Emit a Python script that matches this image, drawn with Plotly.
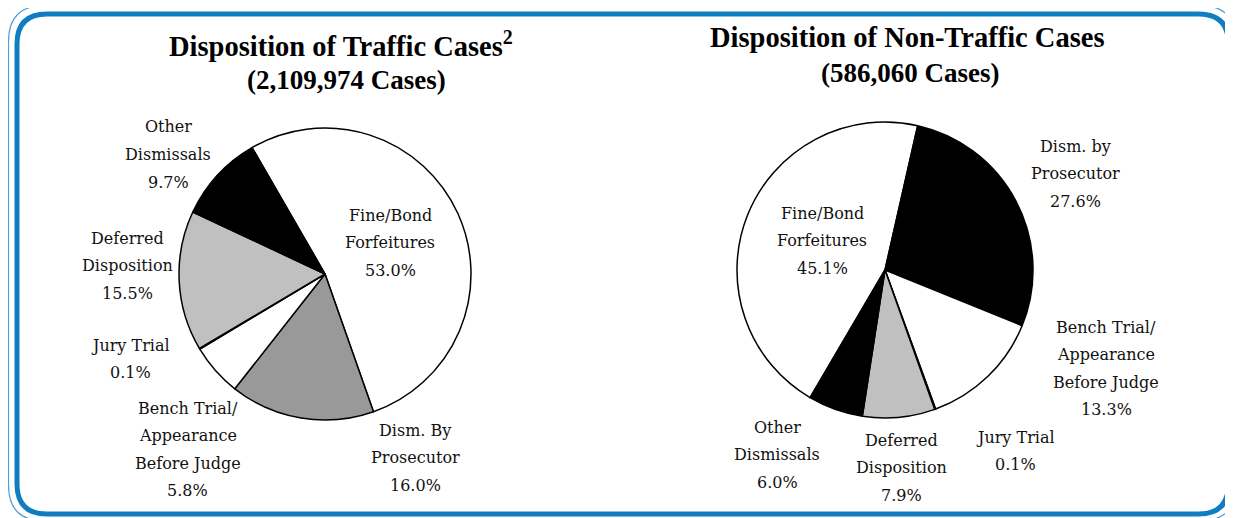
import plotly.graph_objects as go

W, H = 1233, 518
# the page body has an 8px margin, so everything is drawn 8px up/left to land in place
SHIFT = 8

traffic_labels = [
    "Fine/Bond\nForfeitures",
    "Dism. By\nProsecutor",
    "Bench Trial/\nAppearance\nBefore Judge",
    "Jury Trial",
    "Deferred\nDisposition",
    "Other\nDismissals",
]
traffic_values = [53.0, 16.0, 5.8, 0.1, 15.5, 9.7]
traffic_colors = ["#ffffff", "#999999", "#ffffff", "#000000", "#c0c0c0", "#000000"]

nontraffic_labels = [
    "Fine/Bond\nForfeitures",
    "Dism. by\nProsecutor",
    "Bench Trial/\nAppearance\nBefore Judge",
    "Jury Trial",
    "Deferred\nDisposition",
    "Other\nDismissals",
]
nontraffic_values = [45.1, 27.6, 13.3, 0.1, 7.9, 6.0]
nontraffic_colors = ["#ffffff", "#000000", "#ffffff", "#000000", "#c0c0c0", "#000000"]

traffic_title = ["Disposition of Traffic Cases<sup>2</sup>", "(2,109,974 Cases)"]
nontraffic_title = ["Disposition of Non-Traffic Cases", "(586,060 Cases)"]

# label anchor (center x, first line y) in pixels, same order as the labels
traffic_label_pos = [(390, 215), (415, 430), (188, 408), (130, 345), (127, 238), (168, 127)]
nontraffic_label_pos = [(822, 213), (1075, 146), (1106, 327), (1015, 437), (901, 440), (777, 427)]

LABEL_FONT = dict(family="DejaVu Serif", size=16, color="#111111")
BLUE = "#0e7dc2"


def px(x):
    return (x - SHIFT) / W


def py(y):
    return 1 - (y - SHIFT) / H


def pie_domain(cx, cy, r):
    return dict(x=[px(cx - r), px(cx + r)], y=[py(cy + r), py(cy - r)])


def rounded_path(x0, y0, x1, y1, r):
    return (
        f"M {px(x0 + r)},{py(y0)} L {px(x1 - r)},{py(y0)} "
        f"Q {px(x1)},{py(y0)} {px(x1)},{py(y0 + r)} "
        f"L {px(x1)},{py(y1 - r)} Q {px(x1)},{py(y1)} {px(x1 - r)},{py(y1)} "
        f"L {px(x0 + r)},{py(y1)} Q {px(x0)},{py(y1)} {px(x0)},{py(y1 - r)} "
        f"L {px(x0)},{py(y0 + r)} Q {px(x0)},{py(y0)} {px(x0 + r)},{py(y0)} Z"
    )


fig = go.Figure()

fig.add_pie(
    labels=[l.replace("\n", " ") for l in traffic_labels],
    values=traffic_values,
    marker=dict(colors=traffic_colors, line=dict(color="#000000", width=1.5)),
    sort=False,
    direction="clockwise",
    rotation=330,
    textinfo="none",
    hoverinfo="label+percent",
    domain=pie_domain(325, 274, 146),
    showlegend=False,
)
fig.add_pie(
    labels=[l.replace("\n", " ") for l in nontraffic_labels],
    values=nontraffic_values,
    marker=dict(colors=nontraffic_colors, line=dict(color="#000000", width=1.5)),
    sort=False,
    direction="clockwise",
    rotation=210.4,
    textinfo="none",
    hoverinfo="label+percent",
    domain=pie_domain(885, 270, 148),
    showlegend=False,
)

annotations = []


def add_label(text, value, pos, gap=27.5):
    lines = text.split("\n") + [f"{value:.1f}%"]
    x, y = pos
    for i, line in enumerate(lines):
        annotations.append(
            dict(
                x=px(x), y=py(y + i * gap), xref="paper", yref="paper",
                text=line, showarrow=False, font=LABEL_FONT,
                xanchor="center", yanchor="middle",
            )
        )


for text, value, pos in zip(traffic_labels, traffic_values, traffic_label_pos):
    add_label(text, value, pos)
for text, value, pos in zip(nontraffic_labels, nontraffic_values, nontraffic_label_pos):
    add_label(text, value, pos)

for lines, cx, ys in [(traffic_title, [341, 346], [44, 80]), (nontraffic_title, [907, 910], [37, 73])]:
    for line, x, y, size in zip(lines, cx, ys, [28.5, 27]):
        annotations.append(
            dict(
                x=px(x), y=py(y), xref="paper", yref="paper",
                text=f"<b>{line}</b>", showarrow=False,
                font=dict(family="Liberation Serif", size=size, color="#000000"),
                xanchor="center", yanchor="middle",
            )
        )

shapes = [
    dict(type="path", xref="paper", yref="paper", path=rounded_path(8.5, 5.5, 1236, 521, 36),
         line=dict(color="#4f9ed6", width=1.2)),
    dict(type="path", xref="paper", yref="paper", path=rounded_path(17, 14, 1228.5, 514, 30),
         line=dict(color=BLUE, width=5)),
]

fig.update_layout(
    width=W,
    height=H,
    margin=dict(l=0, r=0, t=0, b=0),
    paper_bgcolor="#ffffff",
    plot_bgcolor="#ffffff",
    annotations=annotations,
    shapes=shapes,
)

fig.write_html("out.html")
